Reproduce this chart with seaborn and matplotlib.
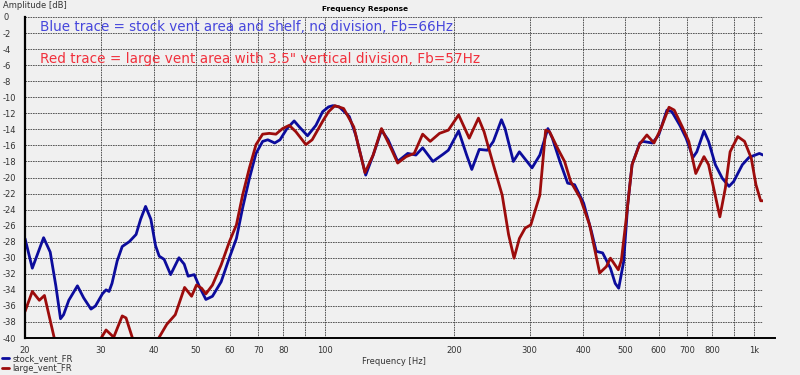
import numpy as np
import pandas as pd
import matplotlib
matplotlib.use("Agg")
import matplotlib.pyplot as plt
from matplotlib.ticker import FixedLocator, FixedFormatter, NullLocator
import seaborn as sns

# ---------------- data ----------------
stock_freq = [20, 20.8, 22.1, 22.9, 23.6, 24.2, 24.6, 25.3, 26.5, 27.4, 28.5, 29.2, 30.3, 30.9,
              31.4, 31.9, 32.8, 33.7, 35.0, 36.3, 37.2, 38.2, 39.3, 40.3, 41.1, 42.2, 43.7, 45.7,
              47.0, 48.0, 49.6, 51.0, 52.8, 54.7, 57.3, 59.9, 62.2, 64.3, 66.7, 69.1, 71.6, 73.6,
              76.4, 78.6, 81.6, 84.8, 87.2, 91.1, 95.3, 98.8, 102.0, 104.4, 108, 114, 118, 124.5,
              129.6, 135.5, 140.4, 147.8, 156, 163, 169, 178.6, 188.6, 194, 205, 214, 220, 229,
              239, 247, 258, 263, 275, 284, 304, 317, 331, 339, 353, 368, 382, 401, 418, 429,
              444, 463, 475, 484, 497, 508, 520, 542, 551, 580, 600, 627, 644, 672, 695, 721,
              736, 765, 784, 813, 844, 875, 897, 940, 974, 1030, 1050]
stock_db = [-27.6, -31.3, -27.5, -29.3, -33.5, -37.6, -37.1, -35.3, -33.5, -35.0, -36.4, -36.0, -34.5, -34.0,
            -34.2, -33.2, -30.4, -28.6, -28.0, -27.1, -25.2, -23.6, -25.2, -28.5, -29.8, -30.2, -32.1, -30.0,
            -30.8, -32.3, -32.1, -33.6, -35.2, -34.8, -33.0, -30.0, -27.6, -23.8, -20.1, -17.0, -15.5, -15.3,
            -15.7, -15.3, -13.9, -12.95, -13.7, -14.8, -13.5, -11.8, -11.2, -11.05, -11.2, -12.4, -14.7, -19.7,
            -17.2, -14.1, -15.3, -18.0, -17.0, -17.2, -16.3, -18.0, -17.1, -16.6, -14.2, -17.2, -19.0, -16.5,
            -16.6, -15.5, -12.8, -13.9, -18.0, -16.8, -18.8, -17.2, -13.9, -15.1, -18.0, -20.7, -20.9, -23.2, -26.7, -29.2,
            -29.4, -31.3, -33.2, -33.8, -30.5, -23.4, -18.4, -15.7, -15.5, -15.7, -14.7, -11.6, -11.8, -13.5, -15.1, -17.5,
            -16.8, -14.2, -15.5, -18.4, -20.1, -21.1, -20.5, -18.4, -17.5, -17.0, -17.2]

large_freq = [20, 20.8, 21.6, 22.2, 23.4, 24.5, 29.5, 30.1, 30.9, 32.2, 33.7, 34.4, 35.6, 37.0,
              39.5, 41.0, 42.8, 44.8, 47.1, 48.9, 50.2, 51.6, 52.8, 54.7, 57.3, 59.9, 62.2, 64.3,
              66.7, 69.1, 71.6, 74.2, 76.9, 79.7, 82.6, 85.6, 90.3, 93.4, 98.8, 102, 105.5, 110.6,
              116.8, 124, 129.6, 135.5, 142.7, 147.8, 154.7, 161.5, 169, 176, 185, 194, 205, 217,
              228, 235, 247, 259, 268, 276, 284, 293, 302, 317, 327, 334, 349, 362, 374, 394,
              414, 437, 453, 463, 483, 491, 504, 520, 542, 563, 585, 607, 634, 652, 681, 705,
              732, 765, 784, 833, 858, 880, 917, 951, 986, 1011, 1037, 1050]
large_db = [-36.7, -34.2, -35.3, -34.7, -40.0, -43.0, -43.0, -40.0, -39.0, -39.9, -37.25, -37.5, -40.0, -43.0,
            -43.0, -40.0, -38.3, -37.1, -33.7, -34.8, -33.4, -33.8, -34.5, -33.4, -30.9, -28.0, -25.9, -22.2,
            -18.8, -15.9, -14.6, -14.5, -14.6, -13.9, -13.5, -14.3, -15.9, -15.3, -13.0, -11.8, -11.05, -11.4,
            -13.7, -19.4, -17.2, -13.9, -16.4, -18.2, -17.4, -17.0, -14.6, -15.5, -14.5, -14.1, -12.2, -15.1,
            -12.6, -14.3, -18.4, -22.2, -27.1, -30.05, -27.6, -26.3, -25.9, -22.2, -14.1, -14.3, -16.4, -18.0, -20.5, -22.6,
            -25.9, -31.9, -31.1, -30.05, -31.5, -30.3, -25.1, -18.4, -15.8, -14.7, -15.7, -13.9, -11.25, -11.6, -13.7, -15.5,
            -19.5, -17.4, -18.4, -24.9, -21.3, -16.8, -14.9, -15.5, -17.6, -20.9, -22.9, -22.9]

series_names = ["stock_vent_FR", "large_vent_FR"]
x_tick_values = [20, 30, 40, 50, 60, 70, 80, 90, 100, 200, 300, 400, 500, 600, 700, 800, 900, 1000]
x_tick_labels = ["20", "30", "40", "50", "60", "70", "80", "", "100", "200", "300", "400",
                 "500", "600", "700", "800", "", "1k"]
y_tick_values = list(range(0, -42, -2))

note_blue = "Blue trace = stock vent area and shelf, no division, Fb=66Hz"
note_red = "Red trace = large vent area with 3.5\" vertical division, Fb=57Hz"

df = pd.concat([
    pd.DataFrame({"freq": stock_freq, "dB": stock_db, "trace": series_names[0]}),
    pd.DataFrame({"freq": large_freq, "dB": large_db, "trace": series_names[1]}),
], ignore_index=True)

# ---------------- style ----------------
sns.set_style("white")
plt.rcParams["font.family"] = ["DejaVu Sans"]
bg = "#f0f0f0"
palette = {series_names[0]: "#0c0c9c", series_names[1]: "#9c0c0c"}

fig = plt.figure(figsize=(8, 3.75), dpi=100, facecolor=bg)
ax = fig.add_axes([25 / 800, 37 / 375, (763 - 25) / 800, (338 - 17) / 375])
ax.set_facecolor(bg)

sns.lineplot(data=df, x="freq", y="dB", hue="trace", palette=palette, sort=False,
             estimator=None, linewidth=2.0, ax=ax, legend=False)

ax.set_xscale("log")
ax.set_xlim(20, 1050)
ax.set_ylim(-40, 0)

ax.xaxis.set_major_locator(FixedLocator(x_tick_values))
ax.xaxis.set_major_formatter(FixedFormatter(x_tick_labels))
ax.xaxis.set_minor_locator(NullLocator())
ax.set_yticks(y_tick_values)
ax.set_yticklabels([str(v) for v in y_tick_values])

ax.grid(True, which="major", color="#404040", linestyle=(0, (2, 1)), linewidth=0.6)
ax.set_axisbelow(True)

for s in ["top", "right"]:
    ax.spines[s].set_visible(False)
ax.spines["left"].set_color("black")
ax.spines["left"].set_linewidth(1.6)
ax.spines["bottom"].set_color("black")
ax.spines["bottom"].set_linewidth(1.4)
ax.spines["bottom"].set_bounds(20, 1120)

ax.tick_params(axis="x", length=3, width=0.8, color="black", labelsize=6,
               labelcolor="#333333", pad=2.5)
ax.tick_params(axis="y", length=0, labelsize=6, labelcolor="#333333", pad=15.8)
for lab in ax.get_yticklabels():
    lab.set_horizontalalignment("left")

ax.set_xlabel("Frequency [Hz]", fontsize=6, color="#333333", labelpad=2)
ax.set_ylabel("")

fig.text(3 / 800, 1 - 6 / 375, "Amplitude [dB]", fontsize=6, color="#333333",
         ha="left", va="center")
fig.text(365 / 800, 1 - 9 / 375, "Frequency Response", fontsize=5.3, fontweight="bold",
         color="black", ha="center", va="center")

ax.text(40 / 800, 1 - 31 / 375, note_blue, transform=fig.transFigure, fontsize=9.75,
        color="#4646dc", ha="left", va="baseline")
ax.text(40 / 800, 1 - 63 / 375, note_red, transform=fig.transFigure, fontsize=9.8,
        color="#f0303c", ha="left", va="baseline")

handles = ax.get_lines()[:2]
fig.legend(handles, series_names, loc="upper left", bbox_to_anchor=(0, 1 - 352 / 375),
           frameon=False, fontsize=6, handlelength=0.9, handletextpad=0.4,
           labelspacing=0.2, borderaxespad=0, borderpad=0.2, labelcolor="#333333")

fig.savefig("out.png", dpi=100, facecolor=bg)
